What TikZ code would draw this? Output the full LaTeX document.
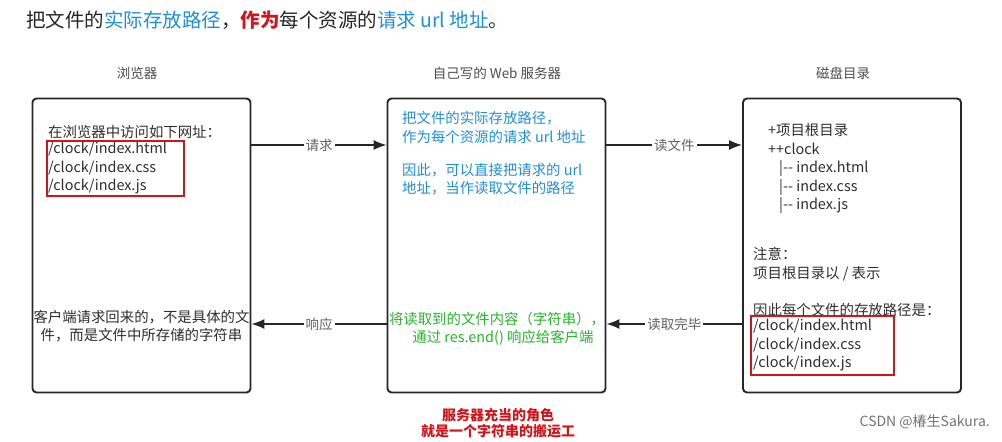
\documentclass[tikz,border=0pt]{standalone}
\usepackage{fontspec}
\setmainfont{Noto Sans CJK SC}
\newfontfamily\treefont{Noto Sans CJK SC}
\usepackage{xcolor}
\usetikzlibrary{arrows.meta}
\definecolor{pathblue}{HTML}{1E8FD6}
\definecolor{sendgreen}{HTML}{25B52A}
\definecolor{markred}{HTML}{D0161B}
\colorlet{inkgray}{black!82}
\colorlet{tagggray}{black!62}

\begin{document}
\begin{tikzpicture}[x=1pt,y=-1pt,>={Latex[length=13pt,width=10pt]},
  panel/.style={draw=black!85,line width=1.9pt,rounded corners=4pt,minimum width=218pt,minimum height=294pt,inner sep=0pt},
  txt/.style={font=\fontsize{14.4}{18.5}\selectfont,text=inkgray,align=left,inner sep=0pt},
  head/.style={font=\fontsize{13.5}{16}\selectfont,text=black!70,inner sep=0pt},
  urlbox/.style={draw=markred,line width=1.6pt,inner sep=0pt},
  flow/.style={->,line width=1.5pt,draw=black!85},
  tag/.style={fill=white,inner sep=2pt,font=\fontsize{13.5}{16}\selectfont,text=tagggray}]
\useasboundingbox (0,0) rectangle (1002,442);
% title line
\node[anchor=west,inner sep=0pt,font=\fontsize{19.5}{22}\selectfont,text=black!85] (title) at (26,20)
  {把文件的\textcolor{pathblue}{实际存放路径}，\textcolor{markred}{\bfseries 作为}每个资源的\textcolor{pathblue}{请求 url 地址}。};
% the three panels
\node[panel] (b1) at (141.5,245.5) {};
\node[panel] (b2) at (496.5,245.5) {};
\node[panel] (b3) at (852,245.5) {};
\node[head] (h1) at (137,73) {浏览器};
\node[head] (h2) at (497,73) {自己写的 Web 服务器};
\node[head] (h3) at (843,73) {磁盘目录};
% browser
\node[txt,anchor=west] (ask) at (48,132) {在浏览器中访问如下网址：};
\node[txt,anchor=west] (urls1) at (48,168.5) {/clock/index.html\\/clock/index.css\\/clock/index.js};
\draw[urlbox] (47,141) rectangle (184,196);
\node[txt,align=center] (got) at (141.5,326) {客户端请求回来的，不是具体的文\\件，而是文件中所存储的字符串};
% server
\node[txt,anchor=west,text=pathblue] (rule) at (402,127.5) {把文件的实际存放路径，\\作为每个资源的请求 url 地址};
\node[txt,anchor=west,text=pathblue] (hence) at (402,179) {因此，可以直接把请求的 url\\地址，当作读取文件的路径};
\node[txt,align=center,text=sendgreen] (send) at (497,328.5) {将读取到的文件内容（字符串），\\\hspace*{12pt}通过 res.end() 响应给客户端};
% disk
\node[txt,anchor=west,font=\treefont\fontsize{14.4}{18.5}\selectfont] (tree) at (768,168.5) {+项目根目录\\++clock\\\hspace*{11pt}|-- index.html\\\hspace*{11pt}|-- index.css\\\hspace*{11pt}|-- index.js};
\node[txt,anchor=west] (note) at (753,264) {注意：\\项目根目录以 / 表示};
\node[txt,anchor=west] (store) at (753,310) {因此每个文件的存放路径是：};
\node[txt,anchor=west] (urls3) at (753,345.5) {/clock/index.html\\/clock/index.css\\/clock/index.js};
\draw[urlbox] (751,316) rectangle (894,375);
% connectors
\coordinate (upper) at (0,145);
\coordinate (lower) at (0,324);
\draw[flow] (b1.east |- upper) -- node[tag]{请求} (b2.west |- upper);
\draw[flow] (b2.east |- upper) -- node[tag]{读文件} (b3.west |- upper);
\draw[flow] (b3.west |- lower) -- node[tag]{读取完毕} (b2.east |- lower);
\draw[flow] (b2.west |- lower) -- node[tag]{响应} (b1.east |- lower);
% role of the server
\node[txt,align=center,text=markred,font=\fontsize{14}{16}\selectfont\bfseries] (role) at (498,423) {服务器充当的角色\\就是一个字符串的搬运工};
\node[anchor=east,inner sep=0pt,font=\fontsize{14}{16}\selectfont,text=black!55] (mark) at (990,422) {CSDN @椿生Sakura.};
\end{tikzpicture}
\end{document}
